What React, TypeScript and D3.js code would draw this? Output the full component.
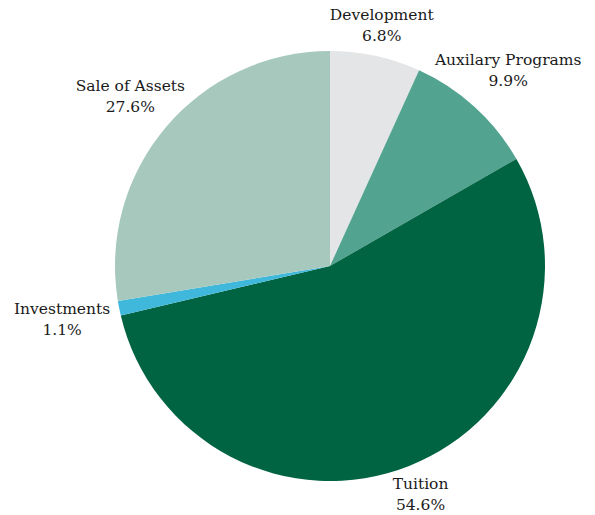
import React, { useEffect, useRef } from "react";
import * as d3 from "d3";

const categories = ["Development", "Auxilary Programs", "Tuition", "Investments", "Sale of Assets"];
const values = [6.8, 9.9, 54.6, 1.1, 27.6];
const colors = ["#e4e5e6", "#53a391", "#006341", "#40b8dc", "#a7c8bc"];

const W = 595;
const H = 515;
const CX = 330;
const CY = 266;
const R = 215;

export default function App() {
  const ref = useRef<SVGSVGElement | null>(null);
  useEffect(() => {
    const svg = d3.select(ref.current);
    svg.selectAll("*").remove();
    const data = categories.map((c, i) => ({ c, v: values[i], col: colors[i] }));
    const pie = d3.pie<any>().value((d) => d.v).sort(null);
    const arcs = pie(data);
    const arc = d3.arc<any>().innerRadius(0).outerRadius(R);
    const g = svg.append("g").attr("transform", `translate(${CX},${CY})`);
    g.selectAll("path")
      .data(arcs)
      .join("path")
      .attr("d", arc as any)
      .attr("fill", (d: any) => d.data.col);

    const lineH = 21;
    const pad = 10;
    arcs.forEach((a: any) => {
      const mid = (a.startAngle + a.endAngle) / 2;
      const s = Math.sin(mid);
      const c = Math.cos(mid);
      const t = g
        .append("text")
        .attr("text-anchor", "middle")
        .attr("font-family", "DejaVu Serif")
        .attr("font-size", 15.5)
        .attr("fill", "#1a1a1a");
      t.append("tspan").attr("x", 0).attr("dy", 0).text(a.data.c);
      t.append("tspan").attr("x", 0).attr("dy", lineH).text(a.data.v.toFixed(1) + "%");
      const bb = (t.node() as SVGTextElement).getBBox();
      const hw = bb.width / 2;
      const hh = bb.height / 2;
      const boxDist = Math.min(Math.abs(s) > 1e-6 ? hw / Math.abs(s) : 1e9, Math.abs(c) > 1e-6 ? hh / Math.abs(c) : 1e9);
      const ellDist = Math.hypot(s * hw, c * hh);
      const dist = (boxDist + ellDist) / 2;
      const rc = R + pad + dist;
      const px = s * rc;
      const py = -c * rc;
      const bcx = bb.x + bb.width / 2;
      const bcy = bb.y + bb.height / 2;
      t.attr("transform", `translate(${px - bcx},${py - bcy})`);
    });
  }, []);
  return <svg ref={ref} width={W} height={H} style={{ display: "block", position: "absolute", left: 0, top: 0 }} />;
}
